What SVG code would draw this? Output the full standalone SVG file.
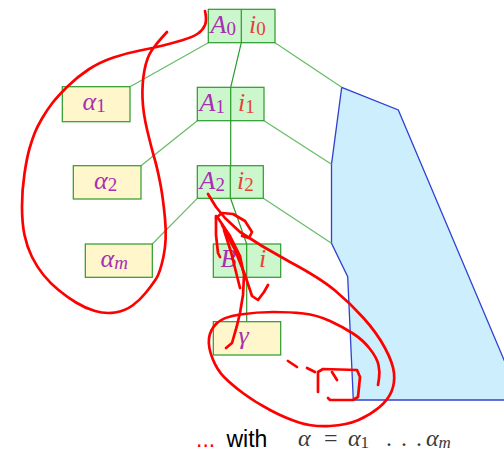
<svg xmlns="http://www.w3.org/2000/svg" width="504" height="456" viewBox="0 0 504 456">
<style>
.box{fill:#ccf7cc;stroke:#2a9a2a;stroke-width:1.2}
.ybox{fill:#fff6cc;stroke:#2a9a2a;stroke-width:1.2}
.div{stroke:#2a9a2a;stroke-width:1.2}
.m{font-family:"Liberation Serif",serif;font-style:italic;font-size:26px}
.p{fill:#a82fb0}
.r{fill:#e8413a}
.sub{font-size:19px;font-style:normal}
.subi{font-size:19px}
.lc{stroke:#66bb66;stroke-width:1.2;fill:none}
.dc{stroke:#2a9a2a;stroke-width:1.2;fill:none}
.red{fill:none;stroke:#f00;stroke-width:2.7;stroke-linecap:round;stroke-linejoin:round}
</style>
<rect width="504" height="456" fill="#fff"/>
<polygon points="341.7,87.3 398.3,110 521,400 353.3,400 347.7,276.7 331.5,243.3 331.5,164.3" fill="#cdeefd" stroke="#3040d0" stroke-width="1.3"/>
<g id="connectors">
<line class="lc" x1="130" y1="86.7" x2="208.3" y2="42.7"/>
<line class="dc" x1="241.3" y1="42.7" x2="230.7" y2="87.3"/>
<line class="lc" x1="275" y1="42.7" x2="341.7" y2="87.3"/>
<line class="lc" x1="141" y1="165.7" x2="197.3" y2="120.7"/>
<line class="dc" x1="230.7" y1="120.7" x2="230.7" y2="165.7"/>
<line class="lc" x1="264" y1="120.7" x2="331.5" y2="164.3"/>
<line class="lc" x1="152.3" y1="244" x2="197.3" y2="198.3"/>
<line class="dc" x1="230.5" y1="198.3" x2="246.7" y2="244"/>
<line class="lc" x1="263.3" y1="198.3" x2="331.5" y2="243.3"/>
<line class="dc" x1="246.7" y1="277.3" x2="246.7" y2="321.7"/>
</g>
<g id="A0">
<rect class="box" x="208.3" y="9.3" width="66.7" height="33.4"/>
<line class="div" x1="241.3" y1="9.3" x2="241.3" y2="42.7"/>
<text class="m p" x="210.5" y="33">A<tspan class="sub" dy="2">0</tspan></text>
<text class="m r" x="249" y="33">i<tspan class="sub" dy="2">0</tspan></text>
</g>
<g id="A1">
<rect class="box" x="197.3" y="87.3" width="66.7" height="33.4"/>
<line class="div" x1="230.7" y1="87.3" x2="230.7" y2="120.7"/>
<text class="m p" x="199.5" y="111">A<tspan class="sub" dy="2">1</tspan></text>
<text class="m r" x="238" y="111">i<tspan class="sub" dy="2">1</tspan></text>
</g>
<g id="A2">
<rect class="box" x="197.3" y="165.7" width="66" height="32.6"/>
<line class="div" x1="230.3" y1="165.7" x2="230.3" y2="198.3"/>
<text class="m p" x="199.5" y="189">A<tspan class="sub" dy="2">2</tspan></text>
<text class="m r" x="237" y="189">i<tspan class="sub" dy="2">2</tspan></text>
</g>
<g id="B">
<rect class="box" x="213.3" y="244" width="67.4" height="33.3"/>
<line class="div" x1="246.7" y1="244" x2="246.7" y2="277.3"/>
<text class="m p" x="220.5" y="267">B</text>
<text class="m r" x="259" y="267">i</text>
</g>
<g id="gamma">
<rect class="ybox" x="213.3" y="321.7" width="67.4" height="33.3"/>
<text class="m p" x="238.5" y="344">γ</text>
</g>
<g id="alpha1">
<rect class="ybox" x="62.3" y="86.7" width="67.7" height="35"/>
<text class="m p" x="82.5" y="110">α<tspan class="sub" dy="2">1</tspan></text>
</g>
<g id="alpha2">
<rect class="ybox" x="73.3" y="165.7" width="67.7" height="33.3"/>
<text class="m p" x="94" y="189">α<tspan class="sub" dy="2">2</tspan></text>
</g>
<g id="alpham">
<rect class="ybox" x="85.3" y="244" width="67" height="33.3"/>
<text class="m p" x="100.5" y="267">α<tspan class="subi" dy="2">m</tspan></text>
</g>
<g id="annotation">
<path class="red" d="M205,11 Q207,20 205,25 Q203,30 198,33.5 Q193,37 183,40 Q173,43 163,45.5 Q153,48 140,50.5 Q127,53 113.5,57.5 Q100,62 88.5,69.5 Q77,77 67,87 Q57,97 52,103.5 Q47,110 42,118.5 Q37,127 34.5,133.5 Q32,140 29.5,148.5 Q27,157 24.5,173.5 Q22,190 22,206.5 Q22,223 24.5,235 Q27,247 32,257 Q37,267 43.5,275 Q50,283 58.5,290 Q67,297 76,302.5 Q85,308 95,311 Q105,314 115,312.5 Q125,311 132.5,305.5 Q140,300 146,292.5 Q152,285 156,279 Q160,273 163.5,256.5 Q167,240 165,218.5 Q163,197 160,182 Q157,167 154.5,158.5 Q152,150 147.5,131.5 Q143,113 142.5,98 Q142,83 144.5,70 Q147,57 152,50 Q157,43 162,37.5 L167,32"/>
<path class="red" d="M208,194 L216,207 L225,218 L240,232 L262,246 L290,262 Q320,278 335,290.5 Q350,303 363.5,318 Q377,333 385,348 Q393,363 394,373 Q395,383 391.5,391.5 Q388,400 379,407.5 Q370,415 358.5,420 Q347,425 330,426 Q313,427 299,422.5 Q285,418 270,410 Q255,402 243.5,393.5 Q232,385 224.5,377.5 Q217,370 212.5,358.5 Q208,347 209,338.5 Q210,330 216.5,323.5 Q223,317 240,314.5 Q257,312 273.5,312 Q290,312 303.5,313.5 Q317,315 330,321 Q343,327 353,333.5 Q363,340 370,349 Q377,358 378.5,365 Q380,372 379,378.5 L378,385"/>
<polyline class="red" points="226,348 232,343 236.7,326.7 240,313 243,295 244,275 240,256 230,236 218,218"/>
<polyline class="red" points="216,216 216,235 218,253 220,257"/>
<polyline class="red" points="216,218 222,213 233,214 245,221 252,232 249,238 242,236"/>
<polyline class="red" points="222,225 235,250 245,275 252,296 258,300 264,292 268,285"/>
<polyline class="red" points="224,230 231,252 236,272 240,288"/>
<polyline class="red" points="288,361 297,367"/>
<polyline class="red" points="307,368 315,372"/>
<polyline class="red" points="318,392 318,372 323,369 357,370 360,377 358,397 353,400 330,400 328,398"/>
<polyline class="red" points="332,372 337,380"/>
</g>
<g id="legend">
<text x="196" y="447" font-family="Liberation Sans,Arial,sans-serif" font-size="23" fill="#f00">...</text>
<text x="226.5" y="447" font-family="Liberation Sans,Arial,sans-serif" font-size="23" fill="#000">with</text>
<g font-family="Liberation Serif,serif" font-size="24" fill="#3a3a3a">
<text x="298" y="446" font-style="italic">α</text>
<text x="324" y="446">=</text>
<text x="348" y="446" font-style="italic">α<tspan font-size="17" font-style="normal" dy="2">1</tspan></text>
<text x="386" y="446" letter-spacing="1.5">. . .</text>
<text x="426" y="446" font-style="italic">α<tspan font-size="17" dy="2">m</tspan></text>
</g>
</g>
</svg>
